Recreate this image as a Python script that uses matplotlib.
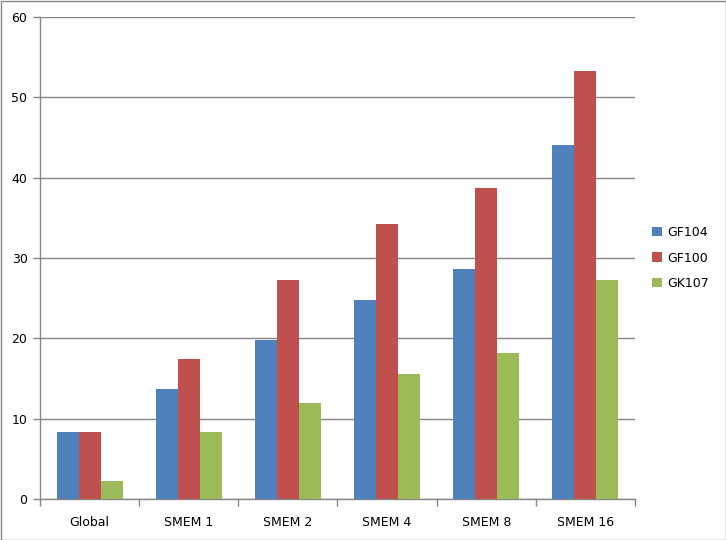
import numpy as np
import matplotlib.pyplot as plt
from matplotlib.patches import Rectangle

# -------- DATA --------
categories = ['Global', 'SMEM 1', 'SMEM 2', 'SMEM 4', 'SMEM 8', 'SMEM 16']
series_names = ['GF104', 'GF100', 'GK107']
gf104 = [8.3, 13.75, 19.8, 24.8, 28.6, 44.1]
gf100 = [8.4, 17.4, 27.3, 34.2, 38.7, 53.3]
gk107 = [2.25, 8.4, 12.0, 15.6, 18.2, 27.2]
y_ticks = [0, 10, 20, 30, 40, 50, 60]
# ----------------------

colors = ['#4F81BD', '#C0504D', '#9BBB59']
grid_col = '#868686'

plt.rcParams['font.family'] = ['DejaVu Sans']

fig = plt.figure(figsize=(7.26, 5.4), dpi=100)
ax = fig.add_axes([40 / 726, 41 / 540, 595 / 726, 482 / 540])

x = np.arange(len(categories))
w = 1 / 4.5
for i, (vals, name) in enumerate(zip([gf104, gf100, gk107], series_names)):
    ax.bar(x + (i - 1) * w, vals, width=w, color=colors[i], label=name, zorder=3)

ax.set_xlim(-0.5, len(categories) - 0.5)
ax.set_ylim(0, 60)
ax.set_yticks(y_ticks)
ax.yaxis.grid(True, color=grid_col, linewidth=1)
ax.set_axisbelow(True)

ax.set_xticks(x)
ax.set_xticklabels(categories, fontsize=9)
ax.set_xticks(np.arange(-0.5, len(categories)), minor=True)
ax.tick_params(axis='x', which='major', length=0, pad=12)
ax.tick_params(axis='x', which='minor', length=5, color=grid_col, width=1)
ax.tick_params(axis='y', length=5, color=grid_col, width=1, labelsize=9, pad=4)

for side in ['top', 'right']:
    ax.spines[side].set_visible(False)
for side in ['left', 'bottom']:
    ax.spines[side].set_color(grid_col)
    ax.spines[side].set_linewidth(1)

ax.legend(loc='center left', bbox_to_anchor=(1.01, 0.5), frameon=False,
          fontsize=9, handlelength=0.8, handleheight=0.8, labelspacing=1.0,
          handletextpad=0.4)

fig.patches.append(Rectangle((0.5 / 726, 0.5 / 540), 725 / 726, 539 / 540,
                             transform=fig.transFigure, fill=False,
                             edgecolor=grid_col, linewidth=1))

fig.savefig('out.png', dpi=100)
